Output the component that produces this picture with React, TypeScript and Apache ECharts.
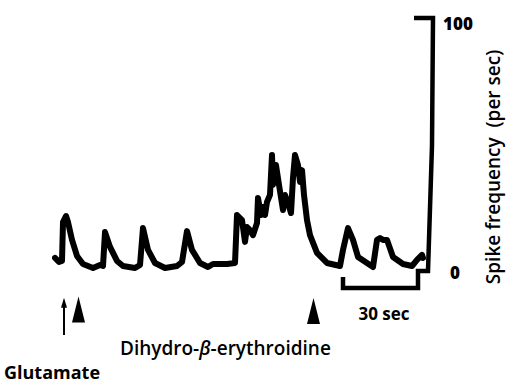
import React, { useEffect, useRef } from "react";
import * as echarts from "echarts";

// Time (s) and spike frequency (per sec)
const timeSec = [0, 1.6, 2.8, 3.2, 4.4, 5.2, 6.8, 8.8, 11.2, 15.2, 18, 19.2, 20, 22, 24.8, 27.2, 32, 34, 35.2, 37.2, 40, 44, 48.8, 50.8, 52.8, 54.8, 58, 61.2, 63.2, 68.8, 72, 72.8, 74.8, 76, 76.8, 78, 79.2, 80.8, 81.2, 82.4, 83.2, 84, 84.8, 86, 86.8, 87.2, 88.4, 89.6, 91.2, 92, 93.2, 94.4, 95.2, 96, 97.2, 98, 98.8, 99.6, 100.8, 102, 104.8, 108.8, 114, 115.2, 117.2, 119.2, 121.2, 124.8, 127.2, 128.8, 130, 131.2, 132.8, 135.2, 139.2, 142.8, 144.8, 146.8, 147.2];
const spikeFreq = [5.2, 3.6, 4.0, 19.5, 21.9, 19.5, 12.4, 6.0, 2.8, 1.2, 2.4, 2.0, 15.5, 9.6, 4.0, 2.0, 1.2, 2.4, 17.1, 8.4, 3.2, 1.2, 2.0, 3.6, 15.9, 8.4, 3.2, 1.6, 2.8, 2.8, 3.2, 22.3, 20.3, 11.6, 17.5, 16.3, 14.3, 19.1, 29.1, 22.3, 25.5, 22.3, 27.5, 30.3, 46.2, 34.3, 42.2, 34.3, 24.3, 30.3, 27.1, 23.1, 37.1, 46.2, 42.2, 35.5, 40.2, 30.3, 20.3, 14.3, 7.2, 3.2, 2.0, 8.4, 17.1, 12.4, 5.6, 3.2, 1.6, 12.4, 13.1, 12.4, 12.4, 5.6, 2.8, 2.0, 4.4, 6.4, 5.2];

// Scale bars
const scaleFreq = 100; // per sec
const scaleTime = 30; // sec
const scaleTickLabels = ["100", "0"];

// Drug application markers (s)
const glutamateTime = 3.6;
const dheStartTime = 9.4;
const dheEndTime = 103.4;

const FONT = "'Open Sans', 'Noto Sans', sans-serif";

export default function App() {
  const ref = useRef<HTMLDivElement>(null);
  useEffect(() => {
    document.body.style.margin = "0";
    const chart = echarts.init(ref.current!, null, { renderer: "svg" });
    const trace = timeSec.map((t, i) => [t, spikeFreq[i]]);
    const barX = 145.2;
    const scaleBar = [
      [barX - 1.6, scaleFreq + 0.8],
      [barX + 6, scaleFreq + 0.8],
      [barX + 5.6, scaleFreq / 2],
      [barX + 4, 0],
      [barX, 0],
      [barX, -6.8],
      [barX - scaleTime, -6.8],
      [barX - scaleTime, -2.4],
    ];
    chart.setOption({
      animation: false,
      grid: { left: 55, top: 20, width: 400, height: 351.4 },
      xAxis: { type: "value", min: 0, max: 160, show: false },
      yAxis: { type: "value", min: -40, max: 100, show: false },
      series: [
        {
          type: "line",
          data: trace,
          symbol: "none",
          lineStyle: { color: "#000", width: 6, join: "round", cap: "round" },
          clip: false,
        },
        {
          type: "line",
          data: scaleBar,
          symbol: "none",
          lineStyle: { color: "#000", width: 4.5, join: "miter", cap: "butt" },
          clip: false,
        },
        {
          type: "line",
          data: [
            [glutamateTime, -25.5],
            [glutamateTime, -13],
          ],
          symbol: "none",
          lineStyle: { color: "#000", width: 2 },
          clip: false,
        },
        {
          type: "scatter",
          data: [[glutamateTime, -12.6]],
          symbol: "triangle",
          symbolSize: [6, 10],
          itemStyle: { color: "#000", opacity: 1 },
          clip: false,
        },
        {
          type: "scatter",
          data: [
            [dheStartTime, -15.3],
            [dheEndTime, -15.9],
          ],
          symbol: "triangle",
          symbolSize: [13, 26],
          itemStyle: { color: "#000", opacity: 1 },
          clip: false,
        },
      ],
      graphic: [
        {
          type: "text",
          x: 458,
          y: 23,
          style: { text: scaleTickLabels[0], font: `800 17px ${FONT}`, fill: "#000", align: "center", verticalAlign: "middle" },
        },
        {
          type: "text",
          x: 455,
          y: 272,
          style: { text: scaleTickLabels[1], font: `800 17px ${FONT}`, fill: "#000", align: "center", verticalAlign: "middle" },
        },
        {
          type: "text",
          x: 384,
          y: 313,
          style: { text: `${scaleTime} sec`, font: `bold 17px ${FONT}`, fill: "#000", align: "center", verticalAlign: "middle" },
        },
        {
          type: "text",
          x: 493,
          y: 167,
          rotation: Math.PI / 2,
          style: { text: "Spike frequency  (per sec)", font: `600 19px ${FONT}`, fill: "#000", align: "center", verticalAlign: "middle" },
        },
        {
          type: "text",
          x: 120,
          y: 348,
          style: {
            text: "Dihydro-{b|β}-erythroidine",
            font: `600 19px ${FONT}`,
            fill: "#000",
            verticalAlign: "middle",
            rich: { b: { fontStyle: "italic", fontWeight: 600, fontSize: 19, fontFamily: FONT, fill: "#000" } },
          },
        },
        {
          type: "text",
          x: 4,
          y: 372,
          style: { text: "Glutamate", font: `bold 18px ${FONT}`, fill: "#000", verticalAlign: "middle" },
        },
      ],
    });
    return () => chart.dispose();
  }, []);
  return <div ref={ref} style={{ width: 510, height: 383 }} />;
}
